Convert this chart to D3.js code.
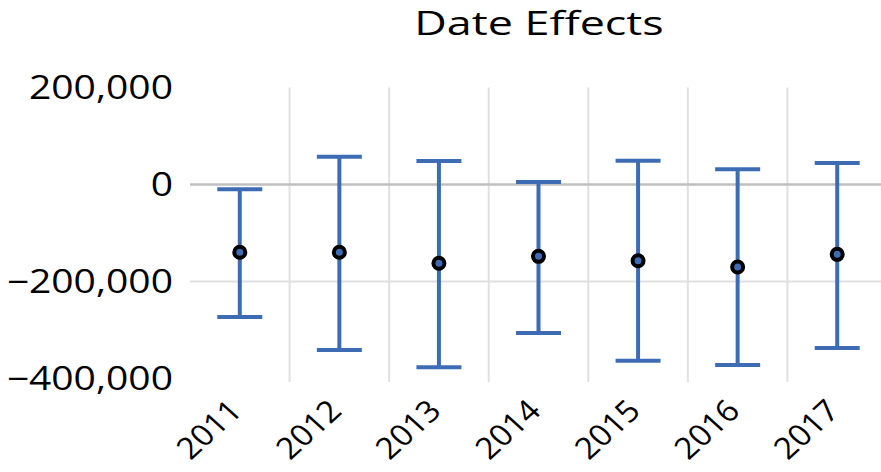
<!DOCTYPE html>
<html>
<head>
<meta charset="utf-8">
<script src="https://cdn.jsdelivr.net/npm/d3@7"></script>
<style>
  html, body { margin: 0; padding: 0; background: #fff; }
  svg { display: block; }
</style>
</head>
<body>
<div id="chart"></div>
<script>
// ── Data ────────────────────────────────────────────────────────────────────
const years = ['2011', '2012', '2013', '2014', '2015', '2016', '2017'];
const estimates = [-139800, -139800, -162500, -148100, -157100, -170100, -144000];
const lowerBounds = [-273200, -341200, -377000, -306200, -363300, -372200, -337100];
const upperBounds = [-9900, 57300, 48500, 5200, 49100, 31300, 44300];
const yTicks = [200000, 0, -200000, -400000];
const title = 'Date Effects';

// ── Layout ──────────────────────────────────────────────────────────────────
const WIDTH = 881, HEIGHT = 472;
const PLOT_LEFT = 190, PLOT_RIGHT = 887, PLOT_TOP = 87.5, PLOT_BOTTOM = 378.5;
const TEXT_STRETCH = 1.22;       // the reference text is a bit wider than the font
const FONT = '"Open Sans", "Noto Sans", sans-serif';
const BLUE = '#3d6cb5';
const CAP_WIDTH = 45;

const rows = years.map((year, i) => ({
  year, estimate: estimates[i], low: lowerBounds[i], high: upperBounds[i],
}));

const svg = d3.select('#chart').append('svg')
  .attr('width', WIDTH).attr('height', HEIGHT);

const x = d3.scaleBand().domain(years).range([PLOT_LEFT, PLOT_RIGHT]).padding(0);
const y = d3.scaleLinear().domain([-400000, 200000]).range([PLOT_BOTTOM, PLOT_TOP]);
const cx = year => x(year) + x.bandwidth() / 2;

// vertical gridlines between categories
svg.append('g').selectAll('line').data(years.slice(1)).join('line')
  .attr('x1', d => x(d)).attr('x2', d => x(d))
  .attr('y1', PLOT_TOP).attr('y2', PLOT_BOTTOM + 3.5)
  .attr('stroke', '#e0e0e0').attr('stroke-width', 2);

// horizontal gridline at -200,000 and the zero line
svg.append('line')
  .attr('x1', PLOT_LEFT).attr('x2', PLOT_RIGHT)
  .attr('y1', y(-200000)).attr('y2', y(-200000))
  .attr('stroke', '#e0e0e0').attr('stroke-width', 2);
svg.append('line')
  .attr('x1', PLOT_LEFT).attr('x2', PLOT_RIGHT)
  .attr('y1', y(0)).attr('y2', y(0))
  .attr('stroke', '#bfbfbf').attr('stroke-width', 2.5);

// y tick labels
const fmt = d3.format(',');
svg.append('g').selectAll('text').data(yTicks).join('text')
  .attr('transform', d => `translate(173,${y(d)}) scale(${TEXT_STRETCH},1)`)
  .attr('dy', '0.36em').attr('text-anchor', 'end')
  .attr('font-family', FONT).attr('font-size', 32).attr('fill', '#000')
  .text(d => fmt(d));

// x tick labels, rotated 45 degrees
svg.append('g').selectAll('text').data(years).join('text')
  .attr('transform', d => `translate(${cx(d) + 4},${PLOT_BOTTOM + 34}) scale(1.1,1) rotate(-45)`)
  .attr('text-anchor', 'end')
  .attr('font-family', FONT).attr('font-size', 30).attr('fill', '#000')
  .text(d => d);

// error bars
const bars = svg.append('g').selectAll('g').data(rows).join('g');
bars.append('line')
  .attr('x1', d => cx(d.year)).attr('x2', d => cx(d.year))
  .attr('y1', d => y(d.high)).attr('y2', d => y(d.low))
  .attr('stroke', BLUE).attr('stroke-width', 4);
bars.selectAll('line.cap').data(d => [[d.year, d.high], [d.year, d.low]]).join('line')
  .attr('class', 'cap')
  .attr('x1', d => cx(d[0]) - CAP_WIDTH / 2).attr('x2', d => cx(d[0]) + CAP_WIDTH / 2)
  .attr('y1', d => y(d[1])).attr('y2', d => y(d[1]))
  .attr('stroke', BLUE).attr('stroke-width', 4);

// point estimates
bars.append('circle')
  .attr('cx', d => cx(d.year)).attr('cy', d => y(d.estimate))
  .attr('r', 5.5)
  .attr('fill', BLUE).attr('stroke', '#000').attr('stroke-width', 4);

// title
svg.append('text')
  .attr('transform', `translate(539,35) scale(1.38,1)`)
  .attr('text-anchor', 'middle')
  .attr('font-family', FONT).attr('font-size', 32.5).attr('fill', '#000')
  .text(title);
</script>
</body>
</html>
